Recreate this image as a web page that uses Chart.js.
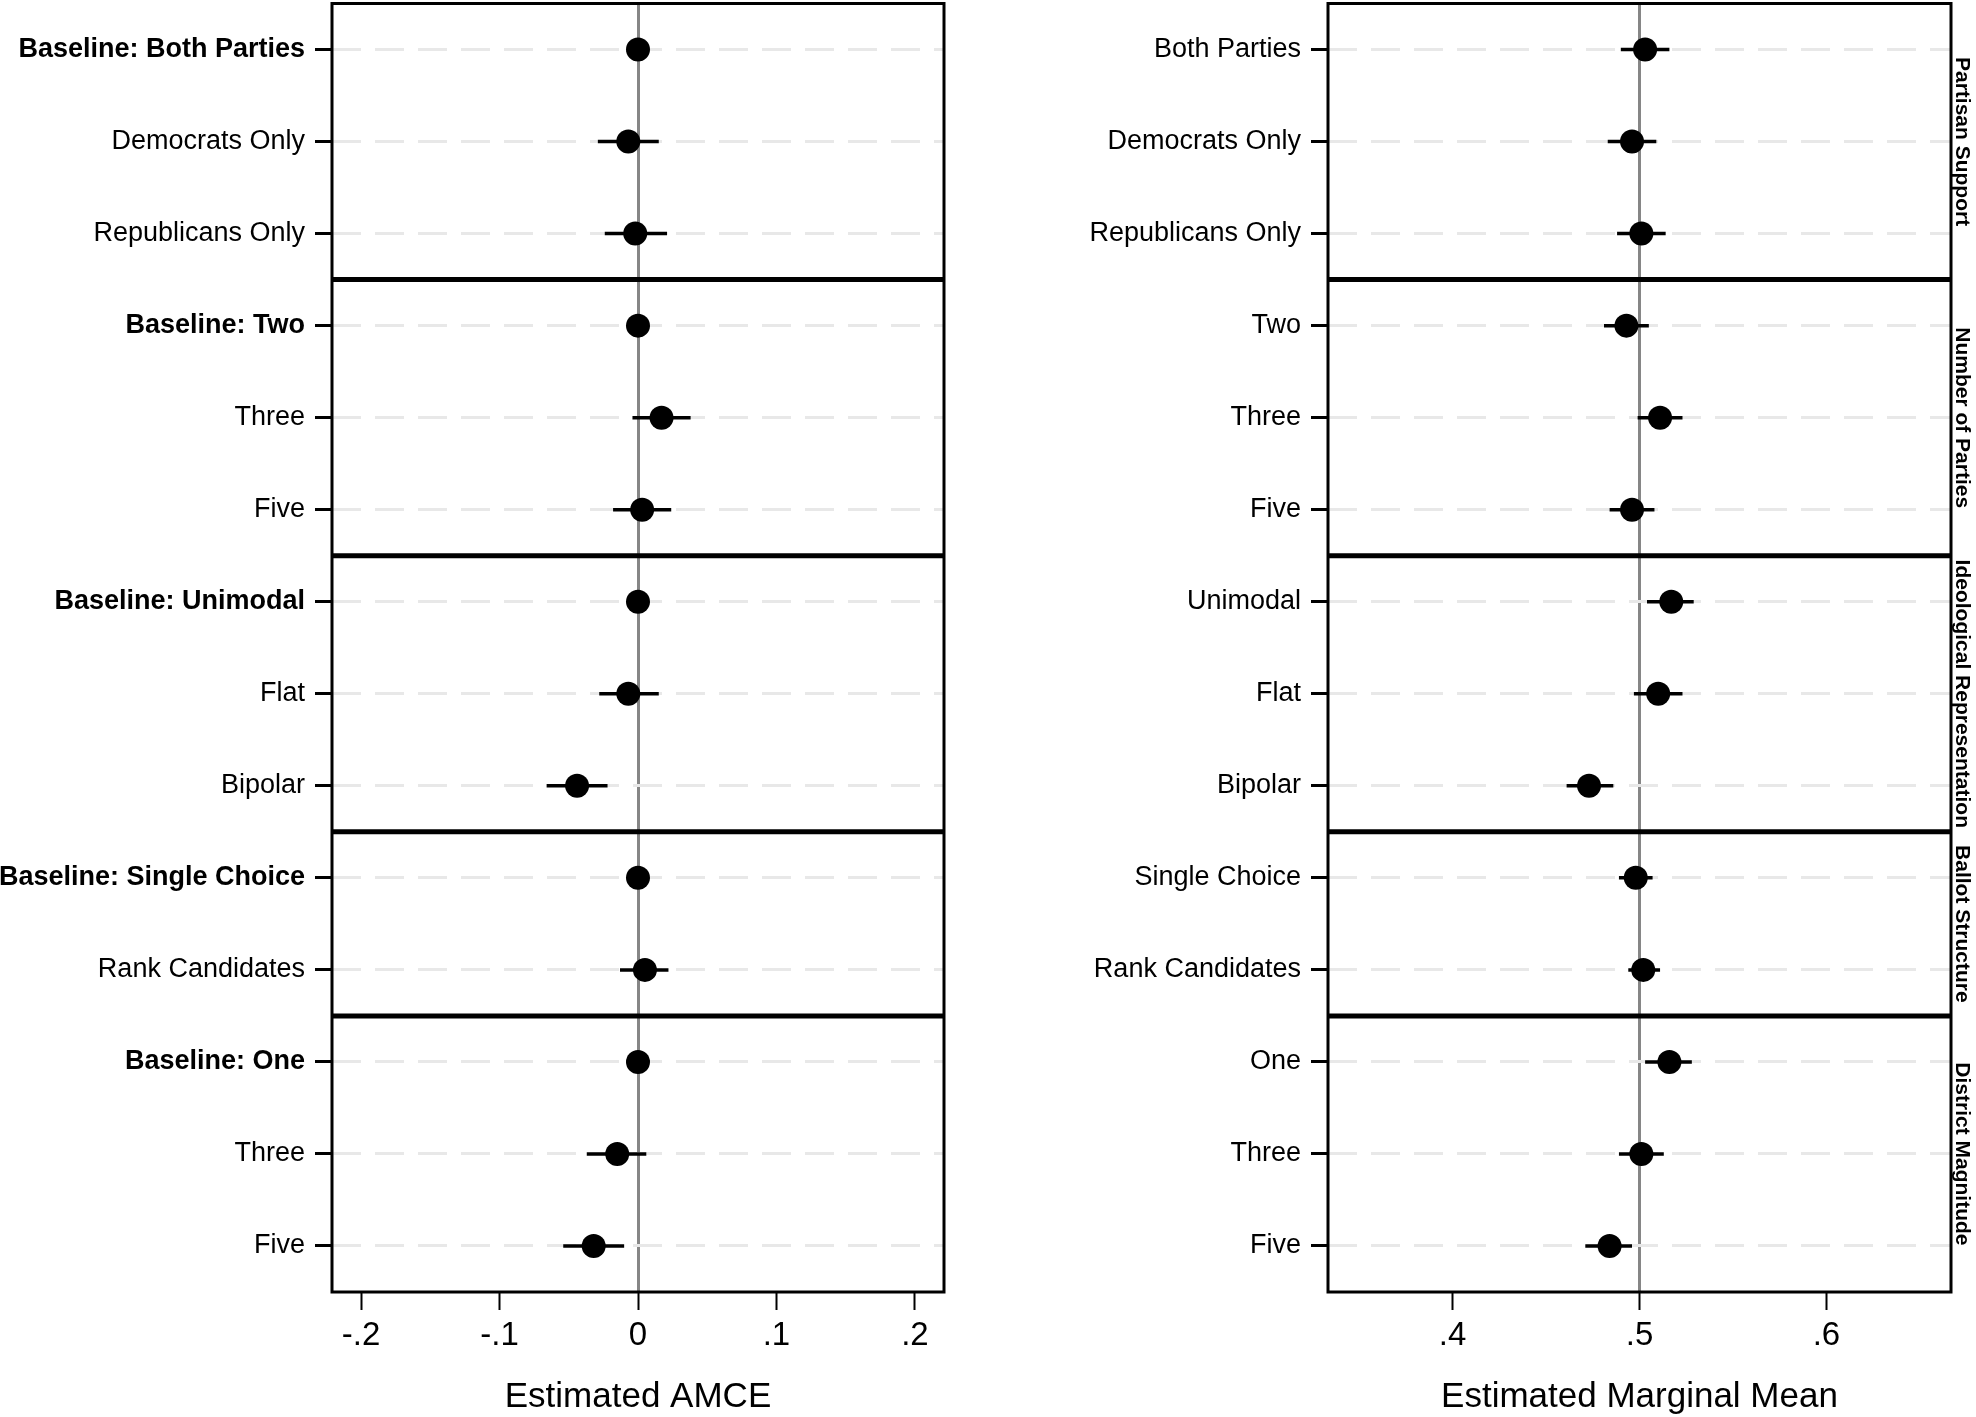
<!DOCTYPE html>
<html>
<head>
<meta charset="utf-8">
<script src="https://cdn.jsdelivr.net/npm/chart.js@4.4.1/dist/chart.umd.min.js"></script>
<style>
  html, body { margin: 0; padding: 0; background: #fff; }
  #wrap { position: relative; width: 1976px; height: 1417px; }
  canvas { position: absolute; top: 0; }
  #amceChart { left: 0; }
  #mmChart { left: 988px; }
</style>
</head>
<body>
<div id="wrap">
  <canvas id="amceChart" width="988" height="1417"></canvas>
  <canvas id="mmChart" width="988" height="1417"></canvas>
</div>
<script>
// Attribute levels, top to bottom
const amceLabels = ["Baseline: Both Parties", "Democrats Only", "Republicans Only",
  "Baseline: Two", "Three", "Five",
  "Baseline: Unimodal", "Flat", "Bipolar",
  "Baseline: Single Choice", "Rank Candidates",
  "Baseline: One", "Three", "Five"];
const mmLabels = ["Both Parties", "Democrats Only", "Republicans Only",
  "Two", "Three", "Five",
  "Unimodal", "Flat", "Bipolar",
  "Single Choice", "Rank Candidates",
  "One", "Three", "Five"];
const boldRows = [true, false, false, true, false, false, true, false, false, true, false, true, false, false];
const groupNames = ["Partisan Support", "Number of Parties", "Ideological Representation", "Ballot Structure", "District Magnitude"];
const groupSizes = [3, 3, 3, 2, 3];

// Left panel: AMCE (baselines have no interval)
const amceEst  = [0, -0.007, -0.002, 0, 0.017, 0.003, 0, -0.007, -0.044, 0, 0.005, 0, -0.015, -0.032];
const amceLow  = [null, -0.029, -0.024, null, -0.004, -0.018, null, -0.028, -0.066, null, -0.013, null, -0.037, -0.054];
const amceHigh = [null, 0.015, 0.021, null, 0.038, 0.024, null, 0.015, -0.022, null, 0.022, null, 0.006, -0.010];
const amceTicks = [-0.2, -0.1, 0, 0.1, 0.2];
const amceTickLabels = ["-.2", "-.1", "0", ".1", ".2"];

// Right panel: marginal means
const mmEst  = [0.503, 0.496, 0.501, 0.493, 0.511, 0.496, 0.517, 0.510, 0.473, 0.498, 0.502, 0.516, 0.501, 0.484];
const mmLow  = [0.490, 0.483, 0.488, 0.481, 0.499, 0.484, 0.504, 0.497, 0.461, 0.489, 0.494, 0.503, 0.489, 0.471];
const mmHigh = [0.516, 0.509, 0.514, 0.505, 0.523, 0.508, 0.529, 0.523, 0.486, 0.507, 0.511, 0.528, 0.513, 0.496];
const mmTicks = [0.4, 0.5, 0.6];
const mmTickLabels = [".4", ".5", ".6"];

const FONT = '"Liberation Sans", Arial, Helvetica, sans-serif';

// interval segments, broken by null points
function ciData(low, high) {
  const pts = [];
  low.forEach((lo, i) => {
    if (lo === null) return;
    pts.push({x: lo, y: i + 1}, {x: high[i], y: i + 1}, {x: null, y: null});
  });
  return pts;
}

// frame, group separators and facet titles
const panelFrame = {
  id: 'panelFrame',
  afterDatasetsDraw(chart, args, opts) {
    const {ctx, chartArea: a} = chart;
    const y = chart.scales.y;
    ctx.save();
    ctx.strokeStyle = '#000';
    ctx.lineWidth = 5;
    let start = 0;
    groupSizes.forEach((n, g) => {
      const top = y.getPixelForValue(start + 0.5);
      const bottom = y.getPixelForValue(start + n + 0.5);
      if (g < groupSizes.length - 1) {
        ctx.beginPath();
        ctx.moveTo(a.left, bottom);
        ctx.lineTo(a.right, bottom);
        ctx.stroke();
      }
      if (opts.facets) {
        ctx.save();
        ctx.translate(a.right + 11, (top + bottom) / 2);
        ctx.rotate(Math.PI / 2);
        ctx.fillStyle = '#000';
        ctx.font = 'bold 21px ' + FONT;
        ctx.textAlign = 'center';
        ctx.textBaseline = 'middle';
        ctx.fillText(groupNames[g], 0, 0);
        ctx.restore();
      }
      start += n;
    });
    ctx.lineWidth = 3;
    ctx.strokeRect(a.left, a.top, a.right - a.left, a.bottom - a.top);
    ctx.restore();
  }
};

function makePanel(id, o) {
  return new Chart(document.getElementById(id), {
    type: 'scatter',
    data: {
      datasets: [
        {
          data: o.est.map((v, i) => ({x: v, y: i + 1})),
          pointRadius: 12, pointHoverRadius: 12,
          pointBackgroundColor: '#000', pointBorderWidth: 0
        },
        {
          data: ciData(o.low, o.high),
          showLine: true, spanGaps: false,
          borderColor: '#000', borderWidth: 3.5,
          pointRadius: 0, pointHoverRadius: 0
        }
      ]
    },
    options: {
      responsive: false,
      animation: false,
      devicePixelRatio: 1,
      events: [],
      layout: { autoPadding: false, padding: { top: 3.5, right: o.padRight, left: 0, bottom: 0 } },
      plugins: {
        legend: { display: false },
        tooltip: { enabled: false },
        panelFrame: { facets: o.facets }
      },
      scales: {
        x: {
          type: 'linear', min: o.min, max: o.max,
          afterBuildTicks: s => { s.ticks = o.ticks.map(v => ({value: v})); },
          afterFit: s => { s.height = 125; s.paddingLeft = 0; s.paddingRight = 0; },
          ticks: {
            autoSkip: false, maxRotation: 0, padding: 6, color: '#000',
            font: { family: FONT, size: 33 },
            callback: (v, i) => o.tickLabels[i]
          },
          grid: {
            color: c => (c.tick && c.tick.value === o.ref) ? '#868686' : 'rgba(0,0,0,0)',
            lineWidth: 3, tickColor: '#000', tickWidth: 2, tickLength: 18
          },
          border: { display: false },
          title: {
            display: true, text: o.title, color: '#000',
            font: { family: FONT, size: 35, lineHeight: 1.1 },
            padding: { top: 0, bottom: 0 }
          }
        },
        y: {
          type: 'linear', reverse: true, min: 0.5, max: o.labels.length + 0.5,
          afterBuildTicks: s => { s.ticks = o.labels.map((_, i) => ({value: i + 1})); },
          afterFit: s => { s.width = o.axisWidth; s.paddingTop = 0; s.paddingBottom = 0; },
          ticks: {
            autoSkip: false, padding: 10, color: '#000',
            font: c => ({ family: FONT, size: 27, weight: (o.bold && o.bold[c.index]) ? 'bold' : 'normal' }),
            callback: (v, i) => o.labels[i]
          },
          grid: { color: '#e8e8e8', lineWidth: 3, tickColor: '#000', tickWidth: 3, tickLength: 17 },
          border: { display: false, dash: [29, 14] }
        }
      }
    },
    plugins: [panelFrame]
  });
}

makePanel('amceChart', {
  labels: amceLabels, bold: boldRows,
  est: amceEst, low: amceLow, high: amceHigh,
  ticks: amceTicks, tickLabels: amceTickLabels,
  min: -0.221, max: 0.221, ref: 0,
  title: "Estimated AMCE",
  axisWidth: 332, padRight: 44, facets: false
});

makePanel('mmChart', {
  labels: mmLabels, bold: null,
  est: mmEst, low: mmLow, high: mmHigh,
  ticks: mmTicks, tickLabels: mmTickLabels,
  min: 1 / 3, max: 2 / 3, ref: 0.5,
  title: "Estimated Marginal Mean",
  axisWidth: 340, padRight: 25, facets: true
});
</script>
</body>
</html>
